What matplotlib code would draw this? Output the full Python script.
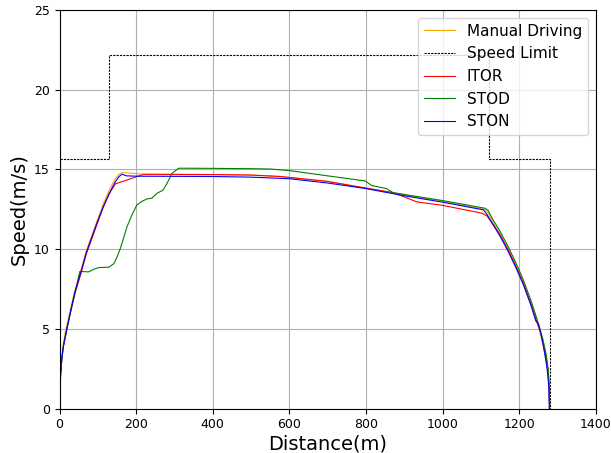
import matplotlib
matplotlib.use("Agg")
import matplotlib.pyplot as plt

# Speed profiles along the route: (distance in m, speed in m/s)
manual_x = [0, 1, 3, 6, 10, 15, 20, 30, 40, 55, 70, 85, 100, 115, 130, 145, 155, 163, 180, 200, 220,
            400, 500, 576, 700, 800, 870, 900, 1000, 1110, 1118, 1130, 1150, 1170, 1190, 1210, 1230,
            1245, 1255, 1262, 1270, 1275, 1278, 1279]
manual_v = [0, 1.3, 2.4, 3.3, 4.1, 4.8, 5.3, 6.4, 7.4, 8.6, 9.9, 10.9, 11.9, 12.9, 13.7, 14.4, 14.7, 14.8,
            14.78, 14.75, 14.7, 14.68, 14.65, 14.56, 14.25, 13.83, 13.55, 13.4, 13.0, 12.5, 12.3, 11.75,
            10.9, 10.0, 9.0, 7.9, 6.6, 5.5, 4.7, 4.0, 3.0, 2.2, 1.2, 0]

limit_x = [0, 130, 130, 1120, 1120, 1280, 1280]
limit_v = [15.65, 15.65, 22.2, 22.2, 15.65, 15.65, 0]

itor_x = [0, 1, 3, 6, 10, 15, 20, 30, 40, 55, 70, 85, 100, 115, 130, 146, 220, 400, 500, 576, 700,
          800, 870, 898, 932, 1000, 1102, 1115, 1124, 1150, 1170, 1190, 1210, 1230, 1245, 1255, 1262,
          1270, 1275, 1278, 1279]
itor_v = [0, 1.2, 2.2, 3.1, 3.9, 4.5, 5.1, 6.2, 7.2, 8.4, 9.7, 10.7, 11.7, 12.7, 13.5, 14.1, 14.7,
          14.68, 14.65, 14.56, 14.25, 13.83, 13.55, 13.3, 12.97, 12.75, 12.26, 12.1, 11.8, 10.9, 10.0,
          9.0, 7.9, 6.6, 5.5, 4.8, 4.1, 3.2, 2.4, 1.3, 0]

stod_x = [0, 1, 3, 6, 10, 15, 20, 30, 40, 53, 60, 76, 90, 103, 129, 142, 150, 159, 176, 190, 202,
          215, 228, 241, 254, 270, 280, 294, 311, 400, 500, 550, 600, 700, 798, 815, 854, 870, 1000,
          1110, 1118, 1130, 1150, 1170, 1190, 1210, 1230, 1245, 1255, 1262, 1270, 1275, 1278, 1279]
stod_v = [0, 1.2, 2.2, 3.1, 3.9, 4.5, 5.1, 6.2, 7.2, 8.6, 8.6, 8.58, 8.75, 8.85, 8.87, 9.1, 9.5,
          10.06, 11.4, 12.2, 12.78, 13.0, 13.15, 13.2, 13.5, 13.7, 14.1, 14.77, 15.08, 15.07, 15.05,
          15.03, 14.93, 14.6, 14.28, 13.99, 13.8, 13.55, 13.05, 12.57, 12.45, 11.9, 11.1, 10.2, 9.2,
          8.1, 6.8, 5.7, 4.9, 4.3, 3.4, 2.5, 1.5, 0]

ston_x = [0, 1, 3, 6, 10, 15, 20, 30, 40, 55, 70, 85, 100, 115, 130, 145, 155, 163, 175, 200, 300,
          400, 500, 600, 700, 800, 900, 1000, 1106, 1115, 1130, 1150, 1170, 1190, 1210, 1230, 1243,
          1250, 1258, 1266, 1273, 1277, 1278]
ston_v = [0, 1.2, 2.2, 3.1, 3.9, 4.5, 5.1, 6.2, 7.3, 8.5, 9.8, 10.8, 11.8, 12.7, 13.5, 14.2, 14.55,
          14.7, 14.6, 14.58, 14.57, 14.56, 14.52, 14.42, 14.15, 13.8, 13.35, 12.95, 12.47, 12.2, 11.6,
          10.8, 9.9, 8.9, 7.8, 6.5, 5.5, 5.3, 4.5, 3.5, 2.4, 1.3, 0]

x_ticks = [0, 200, 400, 600, 800, 1000, 1200, 1400]
y_ticks = [0, 5, 10, 15, 20, 25]

fig = plt.figure(figsize=(6.11, 4.53), dpi=100)
ax = fig.add_axes([59.5 / 611, (453 - 408.7) / 453, (596 - 59.5) / 611, (408.7 - 10) / 453])

lw = 0.8
ax.plot(manual_x, manual_v, color="orange", lw=lw, label="Manual Driving")
ax.plot(limit_x, limit_v, color="black", lw=lw, ls="--", dashes=(2, 1), label="Speed Limit")
ax.plot(itor_x, itor_v, color="red", lw=lw, label="ITOR")
ax.plot(stod_x, stod_v, color="green", lw=lw, label="STOD")
ax.plot(ston_x, ston_v, color="blue", lw=lw, label="STON")

ax.set_xlim(0, 1400)
ax.set_ylim(0, 25)
ax.set_xticks(x_ticks)
ax.set_yticks(y_ticks)
ax.tick_params(labelsize=9)
ax.grid(True)
ax.set_xlabel("Distance(m)", fontsize=14, labelpad=2)
ax.set_ylabel("Speed(m/s)", fontsize=14)
ax.legend(loc="upper right", fontsize=11)

fig.savefig("out.png", dpi=100)
